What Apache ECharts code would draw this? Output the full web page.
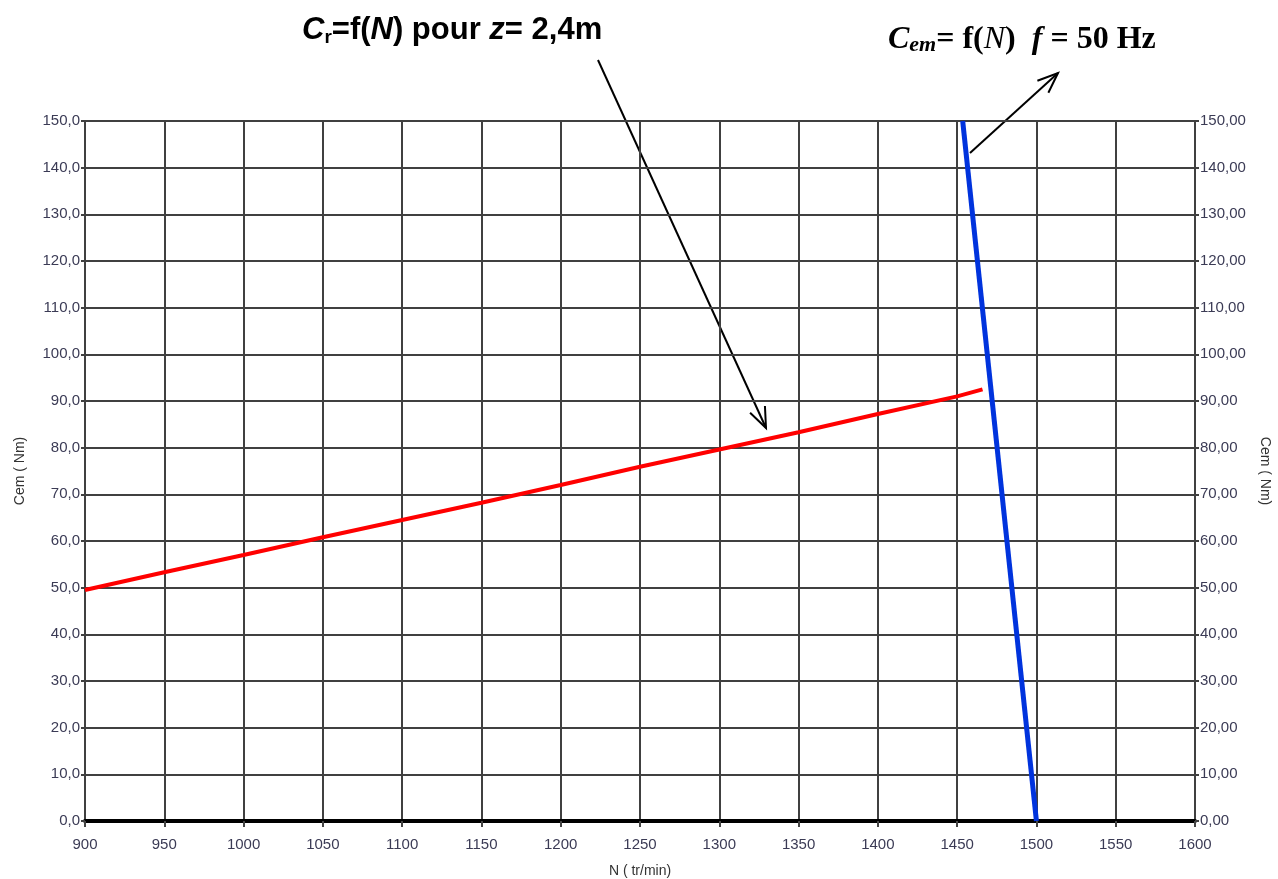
<!DOCTYPE html>
<html><head><meta charset="utf-8">
<script src="https://cdn.jsdelivr.net/npm/echarts@6/dist/echarts.min.js"></script>
<style>html,body{margin:0;padding:0;background:#fff}#c{width:1278px;height:879px}</style>
</head><body><div id="c"></div>
<script>
// Data
const redN   = [900, 950, 1000, 1050, 1100, 1150, 1200, 1250, 1300, 1350, 1400, 1450, 1466];
const redC   = [49.5, 53.3, 57.0, 60.8, 64.5, 68.2, 72.0, 75.9, 79.6, 83.3, 87.2, 91.0, 92.5];
const blueN  = [1453.5, 1500];
const blueC  = [150, 0];
const xTicks = [900, 950, 1000, 1050, 1100, 1150, 1200, 1250, 1300, 1350, 1400, 1450, 1500, 1550, 1600];
const yTicks = [0, 10, 20, 30, 40, 50, 60, 70, 80, 90, 100, 110, 120, 130, 140, 150];

const chart = echarts.init(document.getElementById('c'));
const lblColor = '#3b3b55';
const gridColor = '#404040';
const redData = redN.map((n, i) => [n, redC[i]]);
const blueData = blueN.map((n, i) => [n, blueC[i]]);

function arrow(x1, y1, x2, y2, len, ang) {
  const a = Math.atan2(y2 - y1, x2 - x1);
  const p1 = [x2 - len * Math.cos(a - ang), y2 - len * Math.sin(a - ang)];
  const p2 = [x2 - len * Math.cos(a + ang), y2 - len * Math.sin(a + ang)];
  return [
    {type: 'line', shape: {x1, y1, x2, y2}, style: {stroke: '#000', lineWidth: 2}},
    {type: 'polyline', shape: {points: [p1, [x2, y2], p2]}, style: {stroke: '#000', lineWidth: 2, fill: null}}
  ];
}

chart.setOption({
  animation: false,
  grid: {left: 85, right: 83, top: 121, bottom: 58, containLabel: false, outerBoundsMode: 'none'},
  xAxis: {
    type: 'value', min: xTicks[0], max: xTicks[xTicks.length - 1], interval: 50,
    name: 'N ( tr/min)', nameLocation: 'middle', nameGap: 43,
    nameTextStyle: {fontFamily: 'Liberation Sans', fontSize: 14, color: '#333'},
    axisLine: {show: true, onZero: false, lineStyle: {color: '#000', width: 4}},
    axisTick: {show: true, length: 6, lineStyle: {color: '#444', width: 2}},
    axisLabel: {fontFamily: 'Liberation Sans', fontSize: 15, color: lblColor, margin: 16,
      formatter: v => String(v)},
    splitLine: {show: true, lineStyle: {color: gridColor, width: 2}}
  },
  yAxis: [{
    type: 'value', min: yTicks[0], max: yTicks[yTicks.length - 1], interval: 10, position: 'left',
    name: 'Cem ( Nm)', nameLocation: 'middle', nameGap: 58, nameRotate: 90,
    nameTextStyle: {fontFamily: 'Liberation Sans', fontSize: 14, color: '#333'},
    axisLine: {show: true, lineStyle: {color: gridColor, width: 2}},
    axisTick: {show: true, length: 4, lineStyle: {color: gridColor, width: 2}},
    axisLabel: {fontFamily: 'Liberation Sans', fontSize: 15, color: lblColor, margin: 5,
      formatter: v => v.toFixed(1).replace('.', ',')},
    splitLine: {show: true, lineStyle: {color: gridColor, width: 2}}
  }, {
    type: 'value', min: yTicks[0], max: yTicks[yTicks.length - 1], interval: 10, position: 'right',
    name: 'Cem ( Nm)', nameLocation: 'middle', nameGap: 63, nameRotate: -90,
    nameTextStyle: {fontFamily: 'Liberation Sans', fontSize: 14, color: '#333'},
    axisLine: {show: true, lineStyle: {color: gridColor, width: 2}},
    axisTick: {show: true, length: 4, lineStyle: {color: gridColor, width: 2}},
    axisLabel: {fontFamily: 'Liberation Sans', fontSize: 15, color: lblColor, margin: 5,
      formatter: v => v.toFixed(2).replace('.', ',')},
    splitLine: {show: false}
  }],
  series: [{
    type: 'line', data: redData, showSymbol: false, symbol: 'none',
    lineStyle: {color: '#ff0000', width: 4}, z: 3
  }, {
    type: 'line', data: blueData, showSymbol: false, symbol: 'none',
    lineStyle: {color: '#0033dd', width: 5}, z: 4
  }],
  graphic: [
    {type: 'text', left: 302, top: 15, style: {
      rich: {
        c: {fontFamily: 'Liberation Sans', fontSize: 31, fontWeight: 'bold', fontStyle: 'italic', fill: '#000'},
        s: {fontFamily: 'Liberation Sans', fontSize: 19, fontWeight: 'bold', fill: '#000', padding: [14, 0, 0, 0]},
        n: {fontFamily: 'Liberation Sans', fontSize: 31, fontWeight: 'bold', fill: '#000'}
      },
      text: '{c|C}{s|r}{n|=f(}{c|N}{n|) pour }{c|z}{n|= 2,4m}'
    }},
    {type: 'text', left: 888, top: 24, style: {
      rich: {
        c: {fontFamily: 'Liberation Serif', fontSize: 32, fontWeight: 'bold', fontStyle: 'italic', fill: '#000'},
        s: {fontFamily: 'Liberation Serif', fontSize: 22, fontWeight: 'bold', fontStyle: 'italic', fill: '#000', padding: [11, 0, 0, 0]},
        n: {fontFamily: 'Liberation Serif', fontSize: 32, fontWeight: 'bold', fill: '#000'},
        i: {fontFamily: 'Liberation Serif', fontSize: 32, fontStyle: 'italic', fill: '#000'}
      },
      text: '{c|C}{s|em}{n|= f(}{i|N}{n|)  }{c|f}{n| = 50 Hz}'
    }},
    ...arrow(598, 60, 766, 428, 22, 0.38),
    ...arrow(970, 153, 1058, 73, 22, 0.38)
  ]
});
</script></body></html>
